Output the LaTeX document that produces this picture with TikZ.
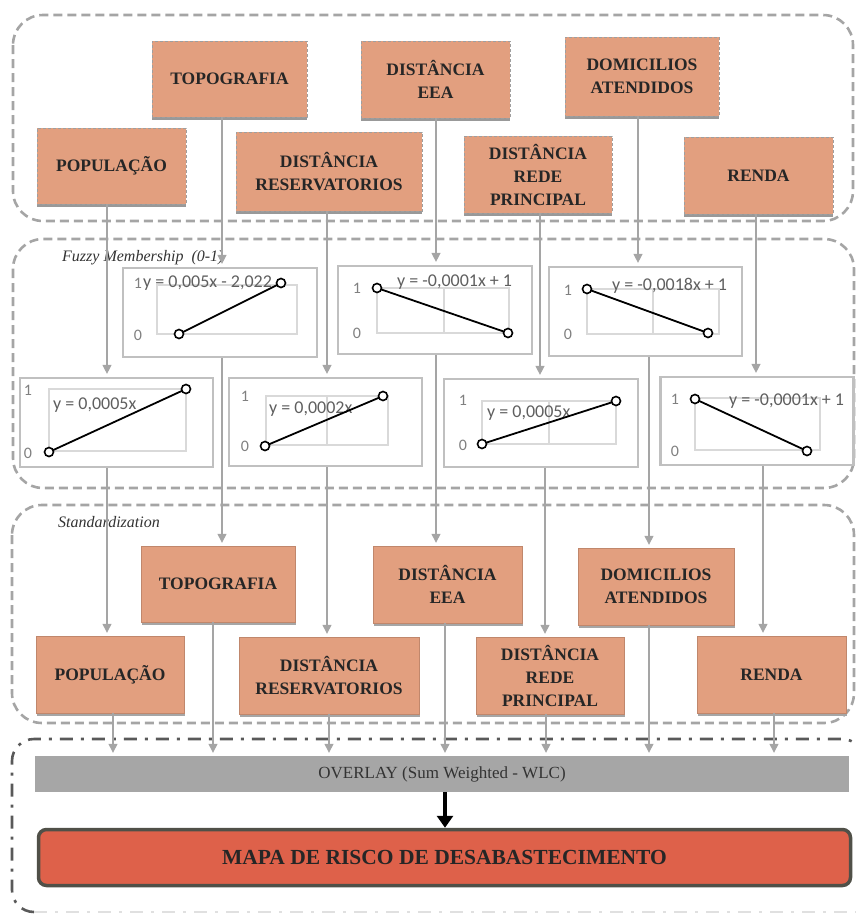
\documentclass[tikz,border=0pt]{standalone}
\usepackage{fontspec}
\setmainfont{Liberation Serif}
\newfontfamily\calfont{Carlito}
\usetikzlibrary{arrows.meta,shadows}
\definecolor{salmon}{RGB}{226,159,127}
\definecolor{riskred}{RGB}{222,97,74}
\definecolor{darkrim}{RGB}{80,80,72}
\definecolor{linegray}{RGB}{165,165,165}
\definecolor{framegray}{RGB}{192,192,192}
\definecolor{gridgray}{RGB}{217,217,217}
\definecolor{eqgray}{RGB}{95,95,95}
\definecolor{bargray}{RGB}{166,166,166}

\begin{document}
\begin{tikzpicture}[x=1pt,y=-1pt]
	\tikzset{every node/.style={inner sep=0pt,align=center}}
	\tikzset{zone/.style={draw=linegray,line width=2.6pt,dash pattern=on 9pt off 5pt,rounded corners=30pt}}
	\tikzset{zonedot/.style={draw=black!65,line width=2.6pt,dash pattern=on 13pt off 8pt on 3pt off 8pt,rounded corners=22pt}}
	\tikzset{boxtext/.style={text=black!85,font=\fontsize{17.5}{23}\selectfont\bfseries}}
	\tikzset{inbox/.style={boxtext,draw=gray!75,dash pattern=on 3pt off 2pt,fill=salmon,drop shadow={shadow xshift=0pt,shadow yshift=-3pt,fill=gray!80,opacity=1}}}
	\tikzset{stdbox/.style={boxtext,draw=salmon!85!black,fill=salmon,drop shadow={shadow xshift=1pt,shadow yshift=-2.5pt,fill=gray!70,opacity=1}}}
	\tikzset{chart/.style={draw=framegray,line width=2.2pt,fill=white}}
	\tikzset{grid/.style={draw=gridgray,line width=1.2pt}}
	\tikzset{axlab/.style={text=gray,font=\calfont\fontsize{16}{18}\selectfont}}
	\tikzset{eqlab/.style={anchor=west,text=eqgray,font=\calfont\fontsize{18}{20}\selectfont}}
	\tikzset{curve/.style={line width=1.8pt}}
	\tikzset{mk/.style={line width=1.6pt,fill=white}}
	\tikzset{zonelab/.style={anchor=west,text=black!80,font=\fontsize{16}{18}\selectfont\itshape}}
	\tikzset{arr/.style={draw=linegray,line width=1.3pt,shorten >=3pt,-{Triangle[width=9pt,length=9pt]}}}
	\useasboundingbox (0,0) rectangle (855,916);

	% the four zones
	\draw[zone] (13,15) rectangle (853,221);
	\draw[zone] (13,239) rectangle (854,488);
	\draw[zone] (12,505) rectangle (854,723);
	\draw[zonedot] (34,912) -- (12,912) -- (12,739) -- (864,739) -- (864,912);
	\draw[draw=black!12,line width=2pt,dash pattern=on 13pt off 8pt on 3pt off 8pt] (34,912) -- (864,912);
	\node[zonelab] (lfuzzy) at (62,258) {Fuzzy Membership\ \ (0-1)};
	\node[zonelab] (lstd) at (58,522) {Standardization};

	% input layers
	\node[inbox,minimum width=155,minimum height=76] (tTOPO) at (229.5,79) {TOPOGRAFIA};
	\node[inbox,minimum width=149,minimum height=77] (tEEA) at (435.5,79.5) {DISTÂNCIA\\EEA};
	\node[inbox,minimum width=154,minimum height=79] (tDOM) at (642,76.5) {DOMICILIOS\\ATENDIDOS};
	\node[inbox,minimum width=149,minimum height=76] (tPOP) at (111.5,166) {POPULAÇÃO};
	\node[inbox,minimum width=186,minimum height=79] (tRES) at (329,171.5) {DISTÂNCIA\\RESERVATORIOS};
	\node[inbox,minimum width=148,minimum height=77] (tREDE) at (538,174.5) {DISTÂNCIA\\REDE\\PRINCIPAL};
	\node[inbox,minimum width=149,minimum height=77] (tREN) at (758.5,175.5) {RENDA};

	% fuzzy charts
	\node[chart,minimum width=194,minimum height=89] (fTOPO) at (220,312.5) {};
	\draw[grid] (157,285) rectangle (297,334);
	\node[axlab] (oneTOPO) at (138,283) {1};
	\node[axlab] (zeroTOPO) at (138,335) {0};
	\node[eqlab] (eTOPO) at (143,283) {y = 0,005x - 2,022};
	\draw[curve] (179,334) -- (281,283);
	\draw[mk] (179,334) circle[radius=4.5pt] (281,283) circle[radius=4.5pt];

	\node[chart,minimum width=194,minimum height=88] (fEEA) at (435,310) {};
	\draw[grid] (377,288) rectangle (509,333) (444,288) -- (444,333);
	\node[axlab] (oneEEA) at (357,288) {1};
	\node[axlab] (zeroEEA) at (357,333) {0};
	\node[eqlab] (eEEA) at (397,282) {y = -0,0001x + 1};
	\draw[curve] (377,288) -- (508,333);
	\draw[mk] (377,288) circle[radius=4.5pt] (508,333) circle[radius=4.5pt];

	\node[chart,minimum width=193,minimum height=89] (fDOM) at (645.5,311.5) {};
	\draw[grid] (587,289) rectangle (719,334) (653,289) -- (653,334);
	\node[axlab] (oneDOM) at (568,290) {1};
	\node[axlab] (zeroDOM) at (568,334) {0};
	\node[eqlab] (eDOM) at (612,286) {y = -0,0018x + 1};
	\draw[curve] (587,289) -- (708,333);
	\draw[mk] (587,289) circle[radius=4.5pt] (708,333) circle[radius=4.5pt];

	\node[chart,minimum width=193,minimum height=89] (fPOP) at (116.5,422.5) {};
	\draw[grid] (49,389) rectangle (186,451);
	\node[axlab] (onePOP) at (28,390) {1};
	\node[axlab] (zeroPOP) at (28,453) {0};
	\node[eqlab] (ePOP) at (53,405) {y = 0,0005x};
	\draw[curve] (49,452) -- (186,389);
	\draw[mk] (49,452) circle[radius=4.5pt] (186,389) circle[radius=4.5pt];

	\node[chart,minimum width=193,minimum height=88] (fRES) at (325.5,422) {};
	\draw[grid] (266,396) rectangle (388,445) (327,396) -- (327,445);
	\node[axlab] (oneRES) at (245,396) {1};
	\node[axlab] (zeroRES) at (245,446) {0};
	\node[eqlab] (eRES) at (269,409) {y = 0,0002x};
	\draw[curve] (265,446) -- (383,396);
	\draw[mk] (265,446) circle[radius=4.5pt] (383,396) circle[radius=4.5pt];

	\node[chart,minimum width=194,minimum height=88] (fREDE) at (541,423) {};
	\draw[grid] (482,401) rectangle (616,444) (549,401) -- (549,444);
	\node[axlab] (oneREDE) at (463,400) {1};
	\node[axlab] (zeroREDE) at (463,445) {0};
	\node[eqlab] (eREDE) at (487,413) {y = 0,0005x};
	\draw[curve] (482,444) -- (616,401);
	\draw[mk] (482,444) circle[radius=4.5pt] (616,401) circle[radius=4.5pt];

	\node[chart,minimum width=193,minimum height=88] (fREN) at (757,421) {};
	\draw[grid] (695,398) rectangle (820,450);
	\node[axlab] (oneREN) at (675,399) {1};
	\node[axlab] (zeroREN) at (675,451) {0};
	\node[eqlab] (eREN) at (729,401) {y = -0,0001x + 1};
	\draw[curve] (695,399) -- (807,451);
	\draw[mk] (695,399) circle[radius=4.5pt] (807,451) circle[radius=4.5pt];

	% standardized layers
	\node[stdbox,minimum width=154,minimum height=76] (sTOPO) at (218,584) {TOPOGRAFIA};
	\node[stdbox,minimum width=149,minimum height=77] (sEEA) at (447.5,584.5) {DISTÂNCIA\\EEA};
	\node[stdbox,minimum width=156,minimum height=77] (sDOM) at (656,586.5) {DOMICILIOS\\ATENDIDOS};
	\node[stdbox,minimum width=148,minimum height=77] (sPOP) at (110,674.5) {POPULAÇÃO};
	\node[stdbox,minimum width=180,minimum height=77] (sRES) at (329,675.5) {DISTÂNCIA\\RESERVATORIOS};
	\node[stdbox,minimum width=148,minimum height=77] (sREDE) at (550,675.5) {DISTÂNCIA\\REDE\\PRINCIPAL};
	\node[stdbox,minimum width=149,minimum height=77] (sREN) at (771.5,674.5) {RENDA};

	% overlay and result
	\node[fill=bargray,minimum width=814,minimum height=36,text=black!80,font=\fontsize{17}{20}\selectfont] (ov) at (442,774) {OVERLAY (Sum Weighted - WLC)};
	\node[draw=darkrim,line width=3.5pt,fill=riskred,rounded corners=8pt,minimum width=812,minimum height=56,text=black!85,font=\fontsize{21.5}{24}\selectfont\bfseries] (mapa) at (444.5,857.5) {MAPA DE RISCO DE DESABASTECIMENTO};

	\foreach \a/\b/\x in {tPOP/fPOP/107,tTOPO/fTOPO/222,tRES/fRES/327,tEEA/fEEA/436,tREDE/fREDE/540,tDOM/fDOM/638,tREN/fREN/756,
		fPOP/sPOP/107,fTOPO/sTOPO/222,fRES/sRES/327,fEEA/sEEA/436,fREDE/sREDE/545,fDOM/sDOM/649,fREN/sREN/763,
		sPOP/ov/113,sTOPO/ov/213,sRES/ov/329,sEEA/ov/445,sREDE/ov/546,sDOM/ov/649,sREN/ov/774}
		\draw[arr] (\a.south -| \x,0) -- (\b.north -| \x,0);
	\draw[line width=4pt,-{Triangle[width=16pt,length=12pt]}] (ov.south -| 445,0) -- (mapa.north -| 445,0);
\end{tikzpicture}
\end{document}
